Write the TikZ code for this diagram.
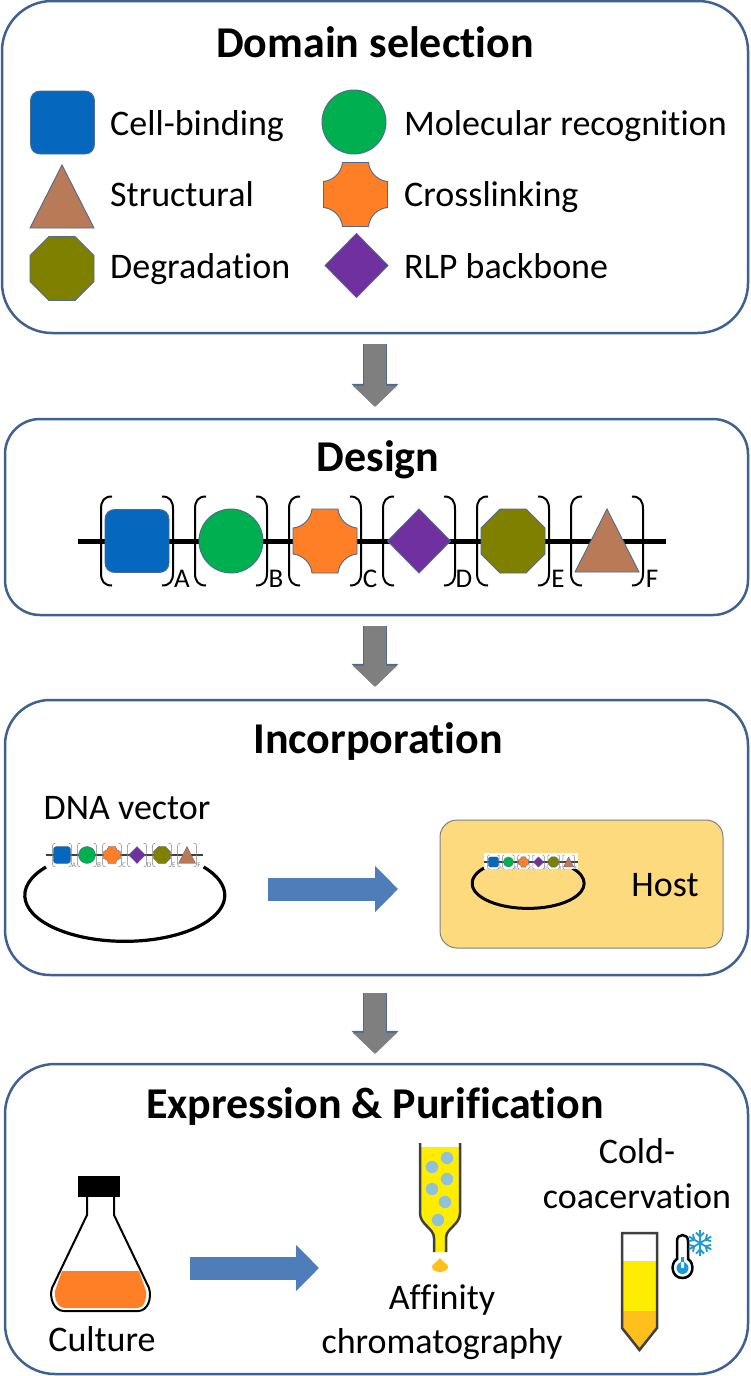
\documentclass[tikz,border=0pt]{standalone}
\usepackage{fontspec}
\setmainfont[Ligatures=NoCommon]{Carlito}
\usetikzlibrary{arrows.meta}

\definecolor{panel_edge}{HTML}{3F6190}
\definecolor{shape_edge}{HTML}{4F6A8F}
\definecolor{cell_blue}{HTML}{0568BE}
\definecolor{recog_green}{HTML}{00B050}
\definecolor{link_orange}{HTML}{FF7F27}
\definecolor{rlp_purple}{HTML}{7030A0}
\definecolor{degr_olive}{HTML}{808000}
\definecolor{struct_brown}{HTML}{B97A57}
\definecolor{arrow_gray}{HTML}{7F7F7F}
\definecolor{arrow_blue}{HTML}{4F7DB9}
\definecolor{host_fill}{HTML}{FEDA7E}
\definecolor{liquid_yellow}{HTML}{FFED00}
\definecolor{liquid_amber}{HTML}{FFC01E}
\definecolor{bead_blue}{HTML}{8FC0DC}
\definecolor{wall_gray}{HTML}{404040}
\definecolor{cold_blue}{HTML}{1E9AD6}

\tikzset{
  cell_shape/.pic={\draw[shape_line,fill=cell_blue] (-22,-31.5) -- (22,-31.5)
    .. controls (28,-31.5) and (32,-27.5) .. (32,-21.5) -- (32,21.5)
    .. controls (32,27.5) and (28,31.5) .. (22,31.5) -- (-22,31.5)
    .. controls (-28,31.5) and (-32,27.5) .. (-32,21.5) -- (-32,-21.5)
    .. controls (-32,-27.5) and (-28,-31.5) .. (-22,-31.5) -- cycle;},
  recog_shape/.pic={\draw[shape_line,fill=recog_green] (0,0) circle (32);},
  link_shape/.pic={\draw[shape_line,fill=link_orange] (-13,-32) -- (13,-32)
    .. controls (14,-22) and (22,-14) .. (32,-13) -- (32,13)
    .. controls (22,14) and (14,22) .. (13,32) -- (-13,32)
    .. controls (-14,22) and (-22,14) .. (-32,13) -- (-32,-13)
    .. controls (-22,-14) and (-14,-22) .. (-13,-32) -- cycle;},
  rlp_shape/.pic={\draw[shape_line,fill=rlp_purple] (0,-32) -- (31.5,0) -- (0,32) -- (-31.5,0) -- cycle;},
  degr_shape/.pic={\draw[shape_line,fill=degr_olive] (-13,-32) -- (13,-32) -- (32,-13) -- (32,13) -- (13,32) -- (-13,32) -- (-32,13) -- (-32,-13) -- cycle;},
  struct_shape/.pic={\draw[shape_line,fill=struct_brown] (0,-32) -- (32,31) -- (-32,31) -- cycle;},
  design_row/.pic={
    \draw[row_line] (-294,0) -- (294,0);
    \foreach \cx/\lab in {-235/A,-141/B,-47/C,47/D,141/E,235/F}{
      \draw[bracket_line] (\cx-25,-44.5) .. controls (\cx-33,-44.5) and (\cx-36,-40) .. (\cx-36,-32) -- (\cx-36,32) .. controls (\cx-36,40) and (\cx-33,44.5) .. (\cx-25,44.5);
      \draw[bracket_line] (\cx+25,-44.5) .. controls (\cx+33,-44.5) and (\cx+36,-40) .. (\cx+36,-32) -- (\cx+36,32) .. controls (\cx+36,40) and (\cx+33,44.5) .. (\cx+25,44.5);
      \node[row_letter] (letter_\lab) at (\cx+45,38) {\lab};
    }
    \pic[transform shape] at (-235,0) {cell_shape};
    \pic[transform shape] at (-141,0) {recog_shape};
    \pic[transform shape] at (-47,0) {link_shape};
    \pic[transform shape] at (47,0) {rlp_shape};
    \pic[transform shape] at (141,0) {degr_shape};
    \pic[transform shape] at (235,0) {struct_shape};
  }
}

\begin{document}
\begin{tikzpicture}[x=1pt,y=-1pt,
    panel_box/.style={draw=panel_edge,line width=2.5pt,fill=white,inner sep=0pt},
    title_text/.style={anchor=base,inner sep=0pt,font=\fontsize{44}{48}\selectfont\bfseries},
    label_text/.style={anchor=base west,inner sep=0pt,font=\fontsize{36}{40}\selectfont},
    mid_text/.style={anchor=base,inner sep=0pt,font=\fontsize{36}{40}\selectfont},
    shape_line/.style={draw=shape_edge,line width=0.9pt},
    row_line/.style={line width=5pt},
    bracket_line/.style={line width=2pt},
    row_letter/.style={inner sep=0pt,transform shape,font=\fontsize{27}{28}\selectfont},
    gray_arrow/.style={draw=arrow_gray,line width=22pt,-{Triangle[width=43pt,length=21pt]},
        preaction={draw=shape_edge,line width=24pt,-{Triangle[width=46pt,length=23pt]}}},
    blue_arrow/.style={draw=arrow_blue,line width=23pt,-{Triangle[width=45pt,length=23pt]}},
    small_row/.style={shape_line/.style={draw=shape_edge,line width=0.3pt},row_line/.style={draw=wall_gray,line width=1.2pt},bracket_line/.style={draw=gray,line width=0.5pt},row_letter/.style={inner sep=0pt,transform shape,text=gray,font=\fontsize{27}{28}\selectfont}},
    dark_wall/.style={draw=wall_gray,line width=2.5pt}]

    \useasboundingbox (0,0) rectangle (750,1376);

    % panels
    \node[panel_box,rounded corners=50,minimum width=746,minimum height=332] (domain_panel) at (375,167) {};
    \node[panel_box,rounded corners=35,minimum width=743,minimum height=196] (design_panel) at (376.5,517) {};
    \node[panel_box,rounded corners=45,minimum width=743,minimum height=275] (vector_panel) at (376.5,837.5) {};
    \node[panel_box,rounded corners=50,minimum width=743,minimum height=310] (express_panel) at (376.5,1219) {};

    % arrows between the panels
    \draw[gray_arrow,shorten <=10pt,shorten >=11pt] (domain_panel.south) -- (domain_panel.south |- design_panel.north);
    \draw[gray_arrow,shorten <=10pt,shorten >=12pt] (domain_panel.south |- design_panel.south) -- (domain_panel.south |- vector_panel.north);
    \draw[gray_arrow,shorten <=17pt,shorten >=9pt] (domain_panel.south |- vector_panel.south) -- (domain_panel.south |- express_panel.north);

    % domain selection
    \node[title_text] (domain_title) at (375,57) {Domain selection};
    \pic at (62.5,122.5) {cell_shape};
    \pic at (62,197) {struct_shape};
    \pic at (62,268.5) {degr_shape};
    \pic at (354,122) {recog_shape};
    \pic at (355.5,194.5) {link_shape};
    \pic at (356.5,265.5) {rlp_shape};
    \node[label_text] (cell_label) at (110,135) {Cell-binding};
    \node[label_text] (struct_label) at (110,206) {Structural};
    \node[label_text] (degr_label) at (110,278) {Degradation};
    \node[label_text] (recog_label) at (404,135) {Molecular recognition};
    \node[label_text] (link_label) at (404,206) {Crosslinking};
    \node[label_text] (rlp_label) at (404,278) {RLP backbone};

    % design
    \node[title_text] (design_title) at (378,471) {Design};
    \pic at (372,541) {design_row};

    % incorporation
    \node[title_text] (vector_title) at (378,753) {Incorporation};
    \node[mid_text] (dna_label) at (127,819) {DNA vector};
    \pic[scale=0.266,small_row] at (124.5,855) {design_row};
    \draw[line width=3.2pt] (46,867) arc[start angle=218,end angle=-38,x radius=100,y radius=46];
    \coordinate (vector_out) at (268,889);
    \coordinate (host_in) at (398,889);
    \draw[blue_arrow] (vector_out) -- (host_in);
    \node[draw=gray,line width=1pt,fill=host_fill,rounded corners=17,minimum width=283,minimum height=128] (host_box) at (581.5,884) {};
    \node[mid_text] (host_label) at (665,896) {Host};
    \draw[line width=3pt] (484,868) arc[start angle=218,end angle=-38,x radius=56,y radius=25];
    \node[fill=white,minimum width=94,minimum height=16,inner sep=0pt] (row_patch) at (531,861) {};
    \pic[scale=0.16,small_row] at (531,862) {design_row};

    % expression and purification
    \node[title_text] (express_title) at (375,1118) {Expression \& Purification};

    % flask
    \fill[link_orange] (62,1271) -- (139,1271) -- (146,1291) .. controls (147,1298) and (144,1308) .. (138,1308) -- (64,1308) .. controls (58,1308) and (54,1298) .. (55,1291) -- cycle;
    \draw[line width=2pt] (87,1197) -- (87,1215) -- (52,1288) .. controls (49,1298) and (54,1311) .. (64,1311) -- (138,1311) .. controls (148,1311) and (152,1298) .. (149,1288) -- (114,1215) -- (114,1197);
    \fill (78,1176) rectangle (120,1197);
    \node[mid_text] (culture_label) at (102,1351) {Culture};
    \coordinate (culture_out) at (190,1268);
    \coordinate (column_in) at (319,1268);
    \draw[blue_arrow] (culture_out) -- (column_in);

    % column
    \fill[liquid_yellow] (421,1147) -- (459,1147) -- (459,1213) .. controls (459,1225) and (446,1228) .. (446,1238) -- (446,1252) -- (434,1252) -- (434,1238) .. controls (434,1228) and (421,1225) .. (421,1213) -- cycle;
    \foreach \bx/\by in {447/1158,432/1167,447/1179,432/1189,445/1202,438/1220}
        \fill[bead_blue] (\bx,\by) circle (6.2);
    \draw[dark_wall] (420,1143) -- (420,1213) .. controls (420,1225) and (434,1228) .. (434,1238) -- (434,1252);
    \draw[dark_wall] (460,1143) -- (460,1213) .. controls (460,1225) and (446,1228) .. (446,1238) -- (446,1252);
    \fill[liquid_amber] (440,1258) .. controls (444,1263) and (448,1264) .. (448,1267) .. controls (448,1270) and (444,1272) .. (440,1272) .. controls (436,1272) and (432,1270) .. (432,1267) .. controls (432,1264) and (436,1263) .. (440,1258) -- cycle;
    \node[mid_text] (affinity_label) at (442,1309) {Affinity};
    \node[mid_text] (chroma_label) at (442,1353) {chromatography};

    % tube
    \fill[liquid_yellow] (623,1261) rectangle (656,1311);
    \fill[liquid_amber] (623,1311) -- (656,1311) -- (656,1328) -- (639.5,1349) -- (623,1328) -- cycle;
    \draw[dark_wall] (622,1233) -- (657,1233) -- (657,1328) -- (639.5,1350) -- (622,1328) -- cycle;
    \node[mid_text] (cold_label) at (637,1163) {Cold-};
    \node[mid_text] (coacerv_label) at (637,1208) {coacervation};

    % thermometer and snow
    \draw[line width=2.5pt,fill=white] (677,1259) -- (677,1241) .. controls (677,1233) and (688,1233) .. (688,1241) -- (688,1259) .. controls (695,1263) and (694,1278) .. (682.5,1278) .. controls (671,1278) and (670,1263) .. (677,1259) -- cycle;
    \fill[cold_blue] (682.5,1268) circle (6) (681,1257) rectangle (684,1268);
    \foreach \ang in {0,60,...,300}
        \draw[cold_blue,line width=1.8pt,rotate around={\ang:(700,1243)}] (700,1243) -- (700,1230) (696,1232.5) -- (700,1236.5) -- (704,1232.5);
\end{tikzpicture}
\end{document}
